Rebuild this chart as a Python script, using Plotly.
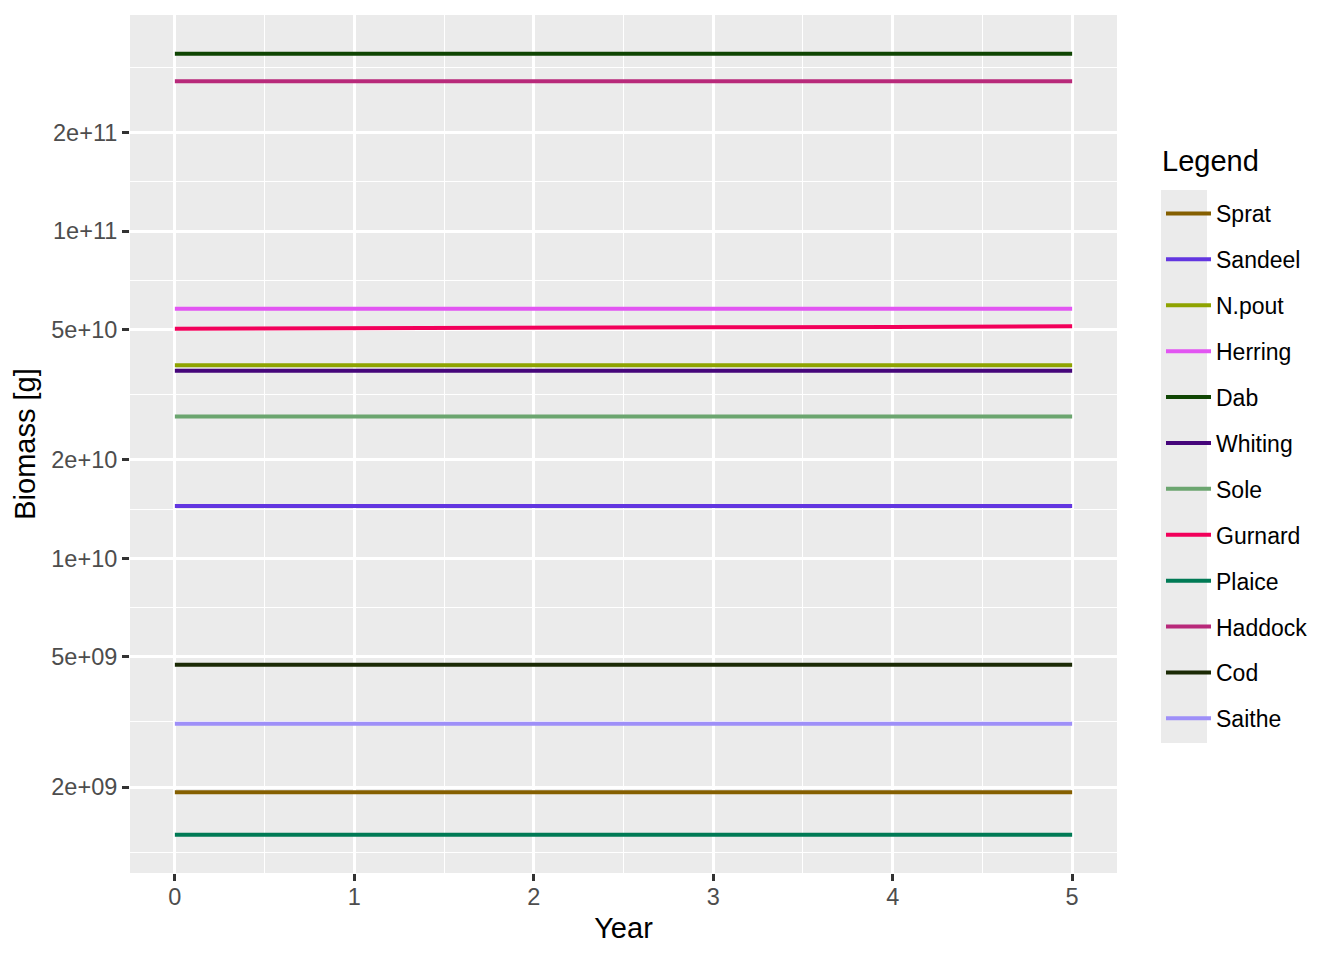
import plotly.graph_objects as go

years = [0, 1, 2, 3, 4, 5]

species = ["Sprat", "Sandeel", "N.pout", "Herring", "Dab", "Whiting",
           "Sole", "Gurnard", "Plaice", "Haddock", "Cod", "Saithe"]

sprat   = [1.928e9] * 6
sandeel = [1.445e10] * 6
npout   = [3.89e10] * 6
herring = [5.79e10] * 6
dab     = [3.48e11] * 6
whiting = [3.74e10] * 6
sole    = [2.71e10] * 6
gurnard = [5.03e10, 5.055e10, 5.066e10, 5.08e10, 5.09e10, 5.115e10]
plaice  = [1.43e9] * 6
haddock = [2.87e11] * 6
cod     = [4.73e9] * 6
saithe  = [3.125e9] * 6

series = [sprat, sandeel, npout, herring, dab, whiting,
          sole, gurnard, plaice, haddock, cod, saithe]

colors = ["#855F00", "#6236E0", "#8EA300", "#E255F2", "#0F4503", "#45057A",
          "#6BA56F", "#F2005A", "#007A55", "#B8297A", "#1B2A05", "#9E8FF8"]

y_tickvals = [2e9, 5e9, 1e10, 2e10, 5e10, 1e11, 2e11]
y_ticktext = ["2e+09", "5e+09", "1e+10", "2e+10", "5e+10", "1e+11", "2e+11"]
y_minorvals = [10**9.102, 10**9.5, 10**9.849, 10**10.1505, 10**10.5, 10**10.849, 10**11.1505, 10**11.5]

x_tickvals = [0, 1, 2, 3, 4, 5]
x_minorvals = [0.5, 1.5, 2.5, 3.5, 4.5]

FONT = "Liberation Sans, Arial, sans-serif"

fig = go.Figure()
for name, vals, col in zip(species, series, colors):
    fig.add_trace(go.Scatter(
        x=years, y=vals, mode="lines", name=name,
        line=dict(color=col, width=4), legendgroup=name,
    ))

OFF = 8  # page body margin
W, H = 1344 - OFF, 960 - OFF
L, R, T, B = 130 - OFF, 227, 15 - OFF, 87
pw = W - L - R
ph = H - T - B

def px_x(px):
    return (px - OFF - L) / pw

def px_y(py):
    return (H - B - (py - OFF)) / ph

fig.add_shape(type="rect", xref="paper", yref="paper",
              x0=px_x(1161), x1=px_x(1207), y0=px_y(743), y1=px_y(190),
              fillcolor="#EBEBEB", line=dict(width=0), layer="below")

fig.add_annotation(text="Legend", xref="paper", yref="paper",
                   x=px_x(1160), y=px_y(161), xanchor="left", yanchor="middle",
                   showarrow=False, font=dict(size=29, color="black", family=FONT))

fig.update_layout(
    width=W, height=H,
    margin=dict(l=L, r=R, t=T, b=B),
    paper_bgcolor="white",
    plot_bgcolor="#EBEBEB",
    font=dict(family=FONT, size=23, color="#4D4D4D"),
    showlegend=True,
    legend=dict(
        font=dict(size=23, color="black", family=FONT),
        x=px_x(1161), xanchor="left",
        y=px_y(192), yanchor="top",
        bgcolor="rgba(0,0,0,0)",
        tracegroupgap=13,
        itemwidth=45,
    ),
    xaxis=dict(
        range=[-0.25, 5.25],
        tickmode="array", tickvals=x_tickvals,
        ticks="outside", ticklen=7, tickwidth=2.5, tickcolor="#333333",
        showgrid=True, gridcolor="white", gridwidth=2.7,
        zeroline=False, showline=False,
        tickfont=dict(size=23.5, color="#4D4D4D"),
        ticklabelstandoff=-4,
        minor=dict(tickmode="array", tickvals=x_minorvals, showgrid=True,
                   gridcolor="white", gridwidth=1.3, ticks=""),
        title=dict(text="Year", font=dict(size=29, color="black"), standoff=8),
    ),
    yaxis=dict(
        type="log",
        range=[9.0385, 11.660],
        tickmode="array", tickvals=y_tickvals, ticktext=y_ticktext,
        ticks="outside", ticklen=7, tickwidth=2.5, tickcolor="#333333",
        showgrid=True, gridcolor="white", gridwidth=2.7,
        zeroline=False, showline=False,
        tickfont=dict(size=23.5, color="#4D4D4D"),
        minor=dict(tickmode="array", tickvals=y_minorvals, showgrid=True,
                   gridcolor="white", gridwidth=1.3, ticks=""),
        title=dict(text="Biomass [g]", font=dict(size=29, color="black"), standoff=7),
    ),
)

fig.write_html("out.html")
